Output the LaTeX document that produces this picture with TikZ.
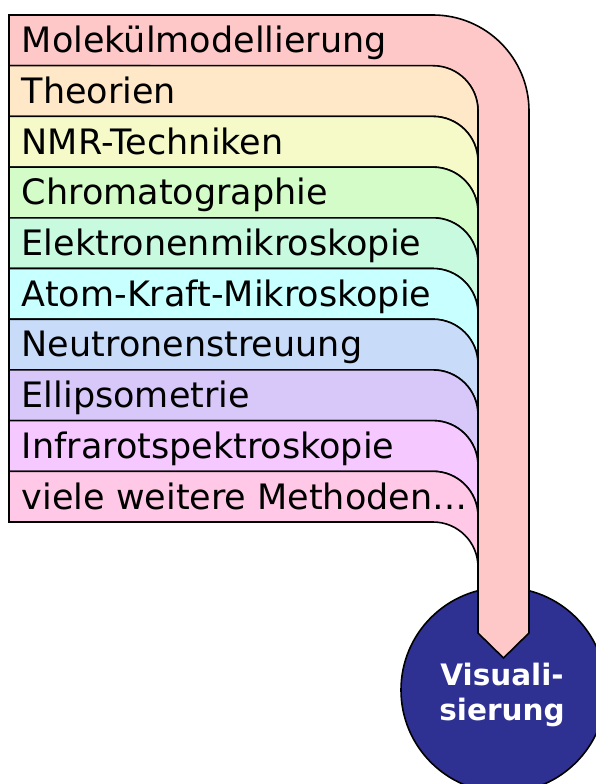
\documentclass[tikz,border=0pt]{standalone}
\usepackage{fontspec}
\setmainfont{DejaVu Sans}
\usepackage{tikz}
\usetikzlibrary{positioning}

\definecolor{cMol}{RGB}{255,200,200}
\definecolor{cTheo}{RGB}{255,232,200}
\definecolor{cNmr}{RGB}{245,250,200}
\definecolor{cChrom}{RGB}{212,252,200}
\definecolor{cElmi}{RGB}{200,250,224}
\definecolor{cAfm}{RGB}{200,255,255}
\definecolor{cNeutr}{RGB}{200,220,250}
\definecolor{cEllips}{RGB}{216,200,250}
\definecolor{cIr}{RGB}{245,200,255}
\definecolor{cMore}{RGB}{255,200,230}
\definecolor{cVis}{RGB}{46,49,146}

\tikzset{
  band/.style={draw=black, line width=1.6pt},
  lbl/.style={anchor=base west, inner sep=0pt, font=\fontsize{35}{40}\selectfont},
}

\begin{document}
\begin{tikzpicture}[x=1pt, y=-1pt, line width=1.6pt]

\useasboundingbox (0,0) rectangle (595,784);

% target circle
\node[circle, draw=black, fill=cVis, line width=1.6pt, minimum size=205pt, inner sep=0pt] (vis) at (503.5,690) {};
\node[align=center, text=white, font=\bfseries\fontsize{29.5}{35}\selectfont] (vislbl) at (502,695) {Visuali-\\sierung};

% big arrow (first row)
\draw[band, fill=cMol] (9,15) -- (433,15) arc[start angle=-90, end angle=0, radius=96]
  -- (529,633) -- (503.5,658) -- (478,633)
  -- (478,111) arc[start angle=0, end angle=-90, radius=45] -- (9,65.7) -- cycle;
\node[lbl] (mol) at (21,52.7) {Molekülmodellierung};

% rows feeding into the arrow
\draw[band, fill=cTheo] (9,65.7) -- (433,65.7) arc[start angle=-90, end angle=0, radius=45]
  -- (478,161.4) arc[start angle=0, end angle=-90, radius=45] -- (9,116.4) -- cycle;
\node[lbl] (theo) at (21,103.4) {Theorien};

\draw[band, fill=cNmr] (9,116.4) -- (433,116.4) arc[start angle=-90, end angle=0, radius=45]
  -- (478,212.1) arc[start angle=0, end angle=-90, radius=45] -- (9,167.1) -- cycle;
\node[lbl] (nmr) at (21,154.1) {NMR-Techniken};

\draw[band, fill=cChrom] (9,167.1) -- (433,167.1) arc[start angle=-90, end angle=0, radius=45]
  -- (478,262.8) arc[start angle=0, end angle=-90, radius=45] -- (9,217.8) -- cycle;
\node[lbl] (chrom) at (21,204.8) {Chromatographie};

\draw[band, fill=cElmi] (9,217.8) -- (433,217.8) arc[start angle=-90, end angle=0, radius=45]
  -- (478,313.5) arc[start angle=0, end angle=-90, radius=45] -- (9,268.5) -- cycle;
\node[lbl] (elmi) at (21,255.5) {Elektronenmikroskopie};

\draw[band, fill=cAfm] (9,268.5) -- (433,268.5) arc[start angle=-90, end angle=0, radius=45]
  -- (478,364.2) arc[start angle=0, end angle=-90, radius=45] -- (9,319.2) -- cycle;
\node[lbl] (afm) at (21,306.2) {Atom-Kraft-Mikroskopie};

\draw[band, fill=cNeutr] (9,319.2) -- (433,319.2) arc[start angle=-90, end angle=0, radius=45]
  -- (478,414.9) arc[start angle=0, end angle=-90, radius=45] -- (9,369.9) -- cycle;
\node[lbl] (neutr) at (21,356.9) {Neutronenstreuung};

\draw[band, fill=cEllips] (9,369.9) -- (433,369.9) arc[start angle=-90, end angle=0, radius=45]
  -- (478,465.6) arc[start angle=0, end angle=-90, radius=45] -- (9,420.6) -- cycle;
\node[lbl] (ellips) at (21,407.6) {Ellipsometrie};

\draw[band, fill=cIr] (9,420.6) -- (433,420.6) arc[start angle=-90, end angle=0, radius=45]
  -- (478,516.3) arc[start angle=0, end angle=-90, radius=45] -- (9,471.3) -- cycle;
\node[lbl] (ir) at (21,458.3) {Infrarotspektroskopie};

\draw[band, fill=cMore] (9,471.3) -- (433,471.3) arc[start angle=-90, end angle=0, radius=45]
  -- (478,567) arc[start angle=0, end angle=-90, radius=45] -- (9,522) -- cycle;
\node[lbl] (more) at (21,509) {viele weitere Methoden…};

\end{tikzpicture}
\end{document}
